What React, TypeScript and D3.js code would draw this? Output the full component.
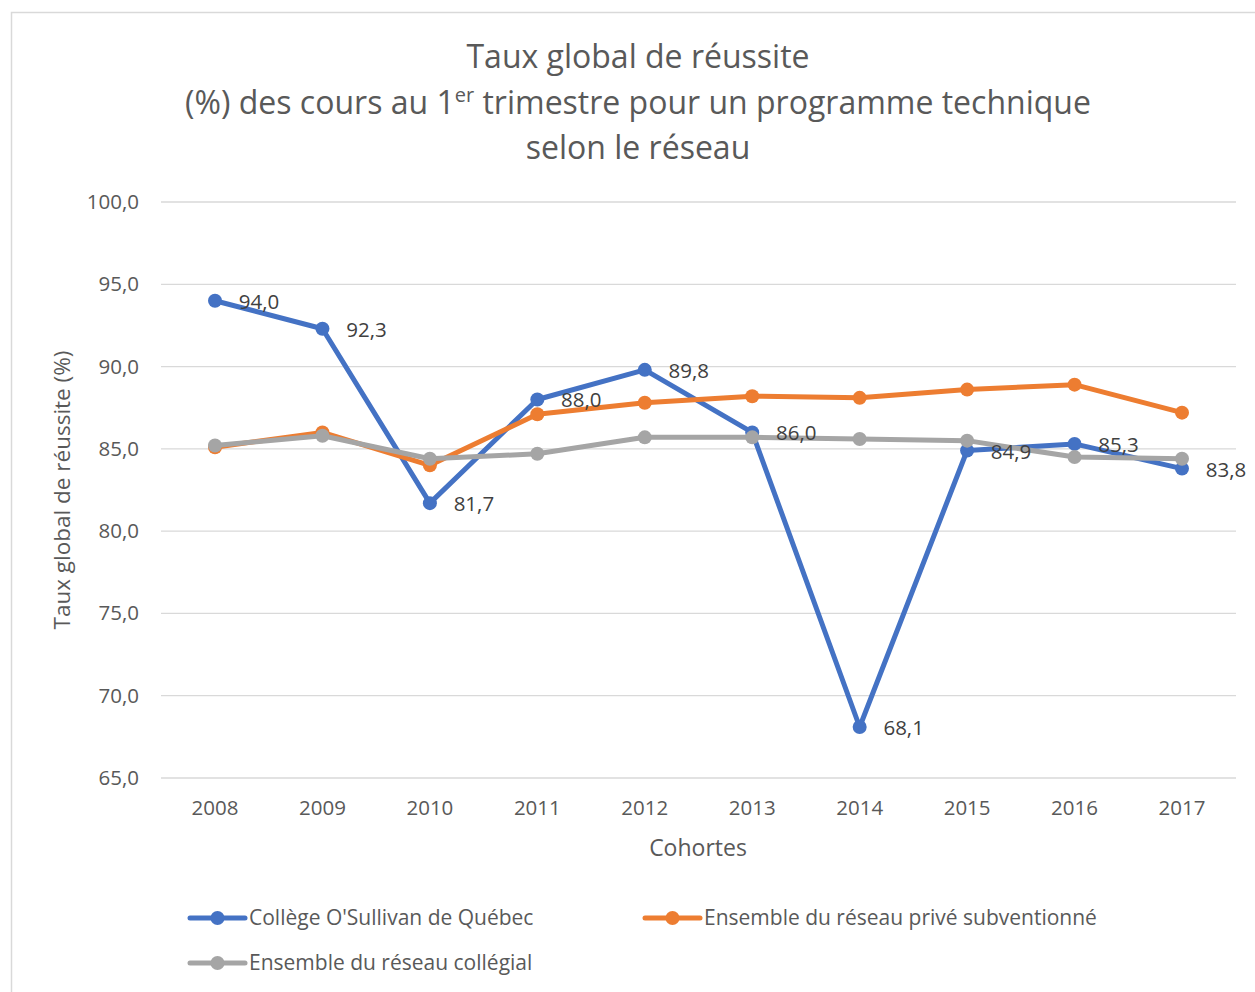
import React, { useRef, useEffect } from 'react';
import * as d3 from 'd3';

const years = ['2008', '2009', '2010', '2011', '2012', '2013', '2014', '2015', '2016', '2017'];
const oSullivan = [94.0, 92.3, 81.7, 88.0, 89.8, 86.0, 68.1, 84.9, 85.3, 83.8];
const prive = [85.1, 86.0, 84.0, 87.1, 87.8, 88.2, 88.1, 88.6, 88.9, 87.2];
const collegial = [85.2, 85.8, 84.4, 84.7, 85.7, 85.7, 85.6, 85.5, 84.5, 84.4];
const yTicks = [65, 70, 75, 80, 85, 90, 95, 100];

const seriesList = [
  { name: "Collège O'Sullivan de Québec", values: oSullivan, color: '#4472C4' },
  { name: 'Ensemble du réseau privé subventionné', values: prive, color: '#ED7D31' },
  { name: 'Ensemble du réseau collégial', values: collegial, color: '#A5A5A5' },
];

const fmt = (v: number) => v.toFixed(1).replace('.', ',');

const App = () => {
  const ref = useRef<SVGSVGElement | null>(null);

  useEffect(() => {
    const W = 1255, H = 992;
    const svg = d3.select(ref.current);
    svg.selectAll('*').remove();
    const font = '"Open Sans", "Noto Sans", sans-serif';

    svg.append('rect')
      .attr('x', 11.5).attr('y', 12.5).attr('width', W).attr('height', H)
      .attr('fill', '#fff').attr('stroke', '#d9d9d9').attr('stroke-width', 1.5);

    // titre
    const titleLines = [
      { y: 68, parts: [{ t: 'Taux global de réussite' }] },
      { y: 114, parts: [{ t: '(%) des cours au 1' }, { t: 'er', sup: true }, { t: ' trimestre pour un programme technique' }] },
      { y: 159, parts: [{ t: 'selon le réseau' }] },
    ];
    titleLines.forEach(l => {
      const tx = svg.append('text')
        .attr('x', 638).attr('y', l.y)
        .attr('text-anchor', 'middle')
        .attr('font-family', font)
        .attr('font-size', 32)
        .attr('fill', '#595959');
      l.parts.forEach((p: any) => {
        const ts = tx.append('tspan').text(p.t);
        if (p.sup) ts.attr('font-size', 20).attr('dy', -12);
        else if (tx.selectAll('tspan').size() > 1) ts.attr('dy', 12);
      });
    });

    const x = d3.scalePoint().domain(years).range([215, 1182]);
    const y = d3.scaleLinear().domain([65, 100]).range([778, 202]);

    const g = svg.append('g');
    g.selectAll('line.grid').data(yTicks).join('line')
      .attr('x1', 161).attr('x2', 1236)
      .attr('y1', d => y(d)).attr('y2', d => y(d))
      .attr('stroke', '#d9d9d9').attr('stroke-width', 1.3);

    g.selectAll('text.yt').data(yTicks).join('text')
      .attr('x', 139).attr('y', d => y(d) + 7)
      .attr('text-anchor', 'end')
      .attr('font-family', font).attr('font-size', 20.5)
      .attr('fill', '#595959')
      .text(d => fmt(d));

    g.selectAll('text.xt').data(years).join('text')
      .attr('x', d => x(d)!).attr('y', 815)
      .attr('text-anchor', 'middle')
      .attr('font-family', font).attr('font-size', 20.5)
      .attr('fill', '#595959')
      .text(d => d);

    svg.append('text')
      .attr('x', 698).attr('y', 856)
      .attr('text-anchor', 'middle')
      .attr('font-family', font).attr('font-size', 23)
      .attr('fill', '#595959')
      .text('Cohortes');

    svg.append('text')
      .attr('transform', 'translate(70,490) rotate(-90)')
      .attr('text-anchor', 'middle')
      .attr('font-family', font).attr('font-size', 22.5)
      .attr('fill', '#595959')
      .text('Taux global de réussite (%)');

    const line = d3.line<number>()
      .x((_, i) => x(years[i])!)
      .y(d => y(d));

    seriesList.forEach(s => {
      g.append('path')
        .datum(s.values)
        .attr('fill', 'none')
        .attr('stroke', s.color)
        .attr('stroke-width', 5)
        .attr('stroke-linejoin', 'round')
        .attr('d', line);
      g.selectAll(null).data(s.values).join('circle')
        .attr('cx', (_, i) => x(years[i])!)
        .attr('cy', d => y(d))
        .attr('r', 7)
        .attr('fill', s.color);
    });

    const blue = seriesList[0];
    g.selectAll('text.lbl').data(blue.values).join('text')
      .attr('x', (_, i) => x(years[i])! + 44)
      .attr('y', d => y(d) + 8)
      .attr('text-anchor', 'middle')
      .attr('font-family', font).attr('font-size', 20.5)
      .attr('fill', '#404040')
      .text(d => fmt(d));

    // légende
    const legendItems = [
      { s: seriesList[0], x: 190, y: 918 },
      { s: seriesList[1], x: 645, y: 918 },
      { s: seriesList[2], x: 190, y: 963 },
    ];
    legendItems.forEach(li => {
      svg.append('line')
        .attr('x1', li.x).attr('x2', li.x + 55)
        .attr('y1', li.y).attr('y2', li.y)
        .attr('stroke', li.s.color).attr('stroke-width', 5)
        .attr('stroke-linecap', 'round');
      svg.append('circle')
        .attr('cx', li.x + 27.5).attr('cy', li.y).attr('r', 7)
        .attr('fill', li.s.color);
      svg.append('text')
        .attr('x', li.x + 59).attr('y', li.y + 7)
        .attr('font-family', font).attr('font-size', 21)
        .attr('fill', '#595959')
        .text(li.s.name);
    });
  }, []);

  return (
    <svg ref={ref} width={1255} height={992}
      style={{ position: 'absolute', left: 0, top: 0, display: 'block' }} />
  );
};

export default App;
